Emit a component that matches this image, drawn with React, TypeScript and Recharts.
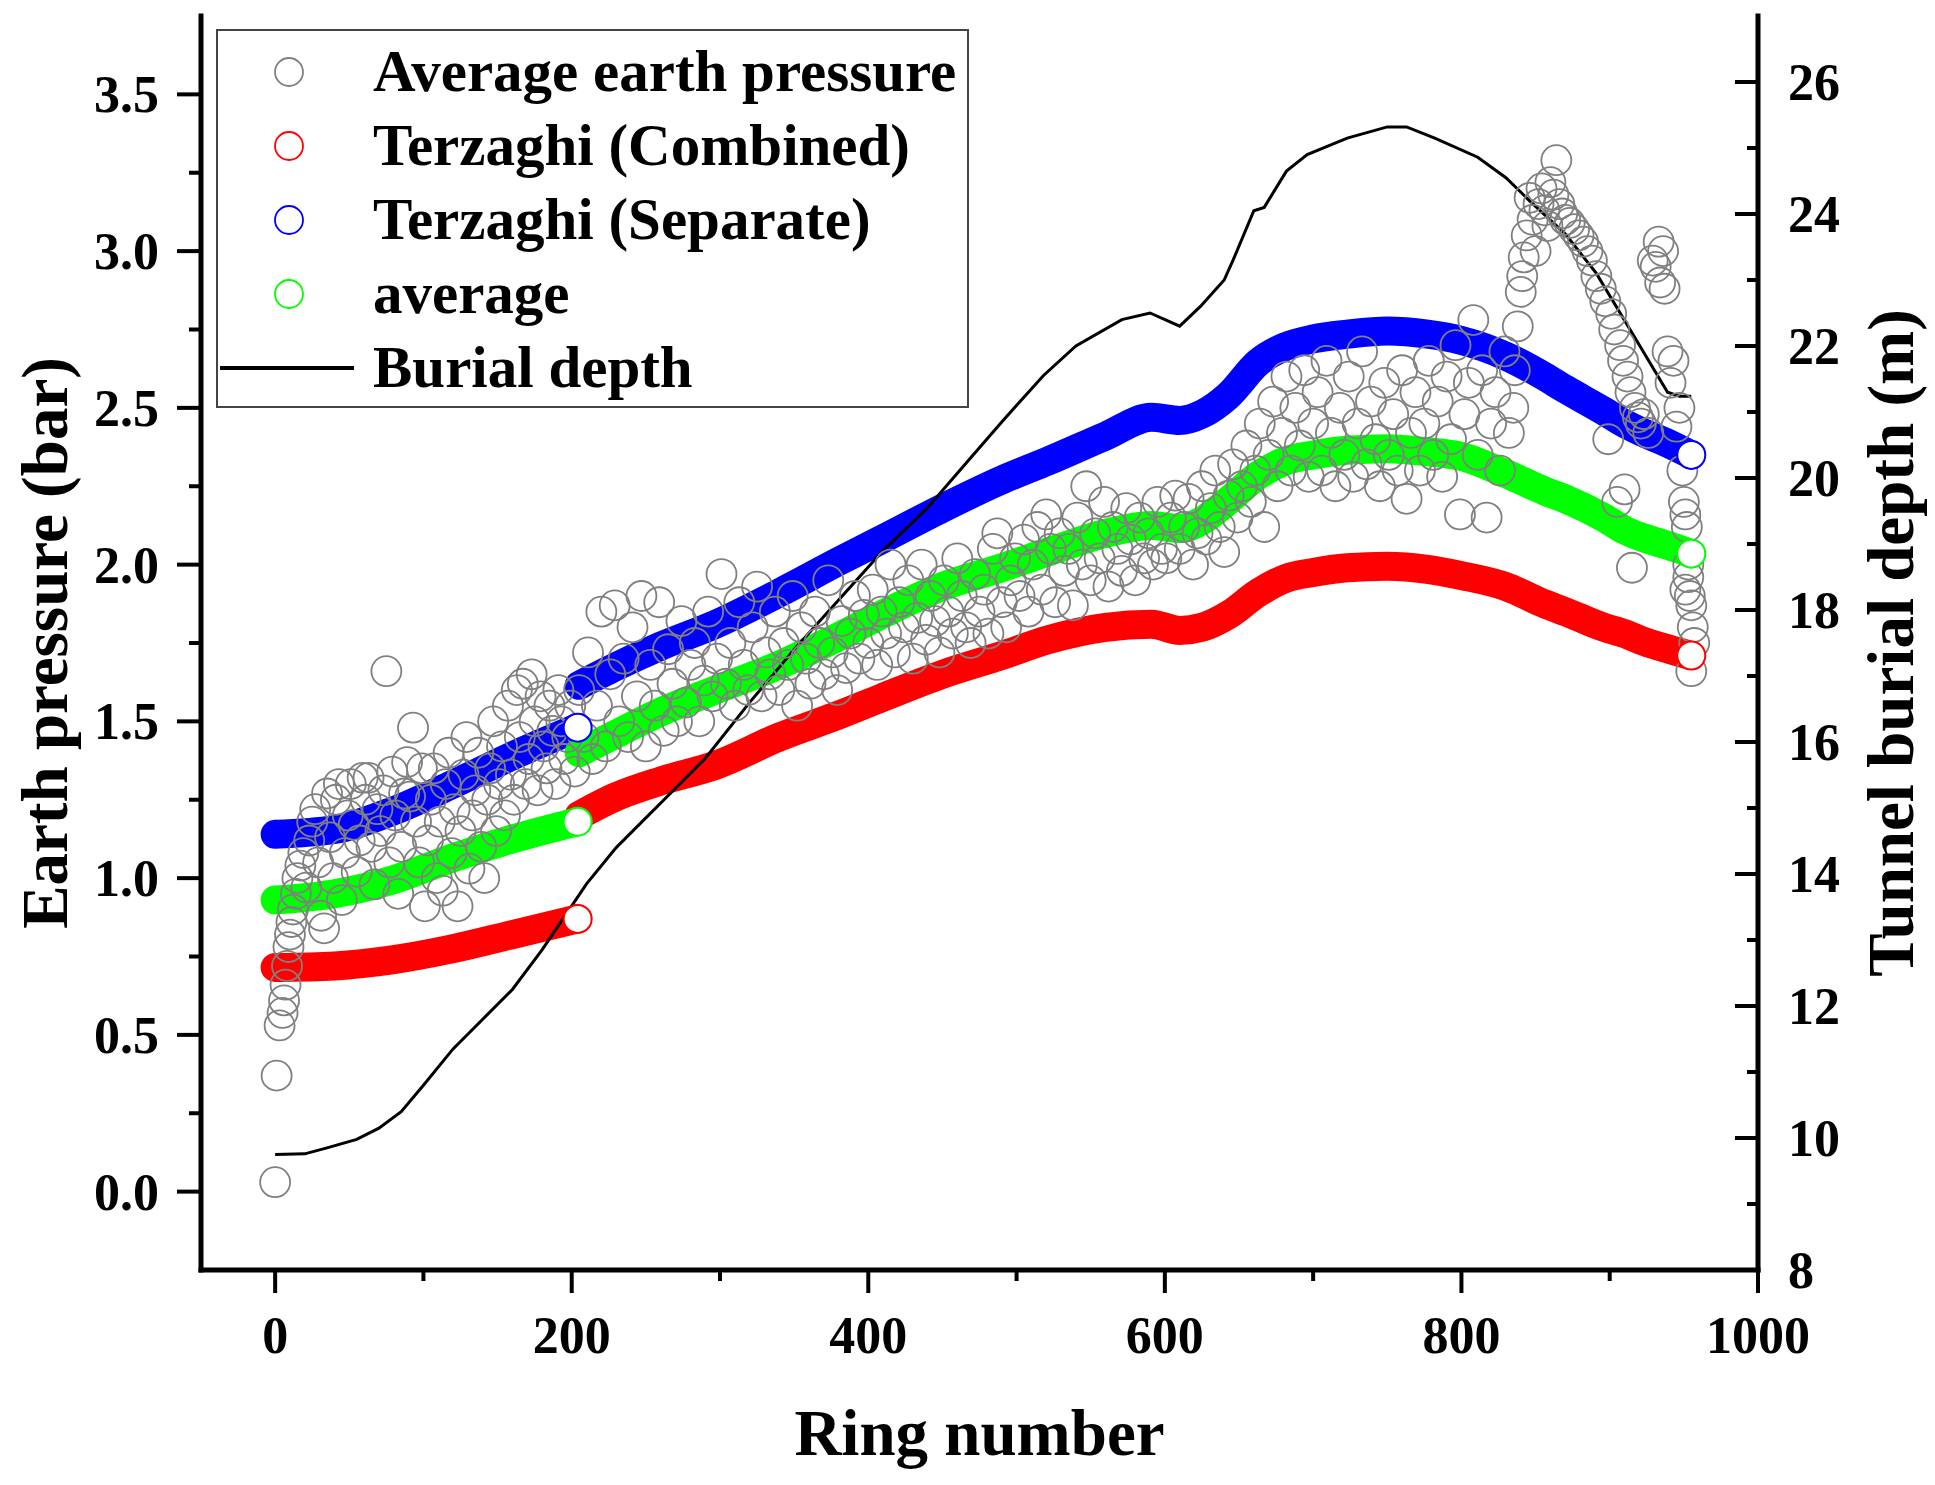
import React from 'react';
import {
  ComposedChart,
  Legend,
  Line,
  Scatter,
  XAxis,
  YAxis,
} from 'recharts';

// ring numbers where the computed curves were read
const RINGS_A = [0, 40, 80, 120, 160, 204];
const RINGS_B = [
  205, 230, 260, 297, 340, 380, 409, 450, 490, 521, 560, 591, 610, 625, 643,
  663, 681, 700, 723, 750, 777, 800, 830, 856, 870, 896, 910, 923, 940, 955,
];

const COMBINED_A = [0.715, 0.72, 0.74, 0.775, 0.82, 0.87];
const COMBINED_B = [
  1.2, 1.26, 1.31, 1.36, 1.45, 1.52, 1.575, 1.65, 1.71, 1.76, 1.8, 1.81, 1.79, 1.8, 1.84,
  1.91, 1.955, 1.975, 1.99, 1.995, 1.985, 1.965, 1.93, 1.875, 1.85, 1.8, 1.78, 1.755, 1.73, 1.71,
];

const SEPARATE_A = [1.14, 1.155, 1.215, 1.3, 1.39, 1.48];
const SEPARATE_B = [
  1.615, 1.675, 1.74, 1.81, 1.91, 2.01, 2.08, 2.18, 2.27, 2.33, 2.41, 2.47, 2.46, 2.48, 2.54,
  2.645, 2.695, 2.72, 2.735, 2.745, 2.735, 2.715, 2.665, 2.6, 2.56, 2.49, 2.45, 2.42, 2.385, 2.35,
];

const AVERAGE_A = [0.93, 0.95, 0.995, 1.065, 1.125, 1.18];
const AVERAGE_B = [
  1.4, 1.46, 1.53, 1.6, 1.68, 1.77, 1.84, 1.93, 1.99, 2.04, 2.1, 2.125, 2.115, 2.14, 2.205,
  2.285, 2.33, 2.35, 2.365, 2.37, 2.36, 2.345, 2.29, 2.235, 2.21, 2.15, 2.11, 2.085, 2.06, 2.035,
];

// burial depth (m) along the drive
const DEPTH_RINGS = [
  0, 20, 35, 55, 70, 85, 100, 120, 140, 160, 180, 195, 210, 230, 250, 270, 290, 320, 350, 380,
  410, 440, 465, 490, 518, 540, 571, 590, 610, 624, 640, 646, 660, 667, 682, 696, 723, 750, 763,
  782, 811, 830, 846, 870, 891, 915, 939, 947, 955,
];
const DEPTH_VALUES = [
  9.75, 9.76, 9.85, 9.98, 10.15, 10.4, 10.8, 11.35, 11.8, 12.25, 12.85, 13.35, 13.85, 14.4, 14.85,
  15.3, 15.75, 16.6, 17.4, 18.15, 18.9, 19.55, 20.2, 20.85, 21.55, 22.0, 22.4, 22.5, 22.3, 22.6,
  23.0, 23.3, 24.05, 24.1, 24.65, 24.9, 25.15, 25.32, 25.32, 25.15, 24.86, 24.55, 24.2, 23.7,
  23.1, 22.2, 21.3, 21.24, 21.24,
];

// measured average earth pressure [ring, bar]
const PRESSURE_EARLY: [number, number][] = [
  [0, 0.03], [1, 0.37], [3, 0.53], [5, 0.57], [6, 0.61], [7, 0.66], [8, 0.72], [9, 0.78], [10, 0.82],
  [11, 0.86], [12, 0.9], [14, 0.95], [15, 1.0], [17, 1.04], [19, 1.08], [21, 0.97], [23, 1.12], [25, 1.18],
  [27, 1.22], [29, 1.05], [31, 0.88], [33, 0.84], [35, 1.27], [37, 1.13], [39, 1.0], [41, 1.25], [43, 1.3],
  [45, 0.93], [47, 1.08], [49, 1.2], [51, 1.3], [53, 1.17], [55, 1.02], [57, 1.12], [59, 1.32], [61, 1.25],
  [63, 1.32], [65, 1.1], [67, 0.98], [69, 1.22], [71, 1.15], [73, 1.28], [75, 1.66], [77, 1.05], [79, 1.34],
  [81, 1.2], [83, 0.95], [85, 1.1], [87, 1.27], [89, 1.37], [91, 1.26], [93, 1.48], [95, 1.18], [97, 1.05],
  [99, 1.35], [101, 0.91], [103, 1.12], [105, 1.25], [107, 1.35], [109, 1.0], [111, 1.18], [113, 0.96],
  [115, 1.3], [117, 1.4], [119, 1.08], [121, 1.22], [123, 0.91], [125, 1.15], [127, 1.33], [129, 1.45],
  [131, 1.03], [133, 1.2], [135, 1.28], [137, 1.4], [139, 1.1], [141, 1.0], [143, 1.25], [145, 1.35],
  [147, 1.5], [149, 1.15], [151, 1.3], [153, 1.42], [155, 1.2], [157, 1.55], [159, 1.33], [161, 1.25],
  [163, 1.6], [165, 1.45], [167, 1.62], [169, 1.3], [171, 1.38], [173, 1.65], [175, 1.5], [177, 1.28],
  [179, 1.58], [181, 1.42], [183, 1.35], [185, 1.55], [187, 1.47], [189, 1.3], [191, 1.6], [193, 1.5],
  [195, 1.38], [197, 1.45], [199, 1.55],
];

const PRESSURE_MID: [number, number][] = [
  [202, 1.34], [205, 1.6], [208, 1.45], [211, 1.72], [214, 1.38], [217, 1.55], [220, 1.85], [223, 1.42],
  [226, 1.65], [229, 1.87], [232, 1.5], [235, 1.7], [238, 1.45], [241, 1.8], [244, 1.58], [247, 1.9],
  [250, 1.42], [253, 1.68], [256, 1.55], [259, 1.88], [262, 1.47], [265, 1.73], [268, 1.62], [271, 1.5],
  [274, 1.82], [277, 1.56], [280, 1.68], [283, 1.75], [286, 1.5], [289, 1.63], [292, 1.85], [295, 1.58],
  [298, 1.7], [301, 1.97], [304, 1.62], [307, 1.75], [310, 1.55], [313, 1.88], [316, 1.68], [319, 1.6],
  [322, 1.8], [325, 1.93], [328, 1.58], [331, 1.72], [334, 1.65], [337, 1.85], [340, 1.6], [343, 1.75],
  [346, 1.68], [349, 1.9], [352, 1.55], [355, 1.8], [358, 1.7], [361, 1.62], [364, 1.85], [367, 1.75],
  [370, 1.65], [373, 1.95], [376, 1.72], [379, 1.6], [382, 1.82], [385, 1.67], [388, 1.78], [391, 1.9],
  [394, 1.7], [397, 1.84], [400, 1.75], [403, 1.92], [406, 1.68], [409, 1.85], [412, 1.78], [415, 2.0],
  [418, 1.72], [421, 1.88], [424, 1.8], [427, 1.95], [430, 1.7], [433, 1.83], [436, 2.0], [439, 1.76],
  [442, 1.9], [445, 1.82], [448, 1.72], [451, 1.95], [454, 1.85], [457, 1.78], [460, 2.02], [463, 1.9],
  [466, 1.8], [469, 1.75], [472, 1.97], [475, 1.85], [478, 1.92], [481, 1.78], [484, 2.05], [487, 2.1],
  [490, 1.88], [493, 1.8], [496, 1.95], [499, 2.02], [502, 1.9], [505, 2.08], [508, 1.85], [511, 2.0],
  [514, 2.12], [517, 1.92], [520, 2.16], [523, 2.05], [526, 1.88], [529, 2.1], [532, 1.98], [535, 2.05],
  [538, 1.87], [541, 2.15], [544, 2.0], [547, 2.25], [550, 1.95], [553, 2.1], [556, 2.02], [559, 2.2],
  [562, 1.93], [565, 2.12], [568, 2.05], [571, 1.98], [574, 2.18], [577, 2.08], [580, 1.95], [583, 2.15],
  [586, 2.02], [589, 2.1], [592, 2.0], [595, 2.2], [598, 2.05],
];

const PRESSURE_LATE: [number, number][] = [
  [601, 2.02], [604, 2.15], [607, 2.22], [610, 2.05], [613, 2.12], [616, 2.21], [619, 2.0], [622, 2.1],
  [625, 2.25], [628, 2.08], [631, 2.18], [634, 2.3], [637, 2.12], [640, 2.04], [643, 2.22], [646, 2.32],
  [649, 2.15], [652, 2.25], [655, 2.38], [658, 2.2], [661, 2.3], [664, 2.45], [667, 2.12], [670, 2.35],
  [673, 2.52], [676, 2.25], [679, 2.42], [682, 2.6], [685, 2.3], [688, 2.5], [691, 2.38], [694, 2.62],
  [697, 2.28], [700, 2.45], [703, 2.55], [706, 2.3], [709, 2.65], [712, 2.42], [715, 2.25], [718, 2.5],
  [721, 2.35], [724, 2.6], [727, 2.28], [730, 2.45], [733, 2.68], [736, 2.32], [739, 2.52], [742, 2.4],
  [745, 2.25], [748, 2.58], [751, 2.35], [754, 2.48], [757, 2.3], [760, 2.62], [763, 2.21], [766, 2.42],
  [769, 2.55], [772, 2.3], [775, 2.45], [778, 2.65], [781, 2.35], [784, 2.52], [787, 2.28], [790, 2.6],
  [793, 2.4], [796, 2.7], [799, 2.16], [802, 2.48], [805, 2.58], [808, 2.78], [811, 2.35], [814, 2.62],
  [817, 2.15], [820, 2.45], [823, 2.55], [826, 2.3], [829, 2.68], [832, 2.42], [835, 2.5], [836, 2.62],
  [838, 2.76], [840, 2.87], [841, 2.92], [842, 2.98], [844, 3.05], [846, 3.17], [848, 3.1], [850, 3.0],
  [852, 3.15], [854, 3.2], [856, 3.13], [858, 3.08], [860, 3.22], [862, 3.18], [864, 3.29], [866, 3.15],
  [868, 3.12], [870, 3.1], [873, 3.09], [876, 3.07], [879, 3.05], [882, 3.03], [885, 3.0], [888, 2.97],
  [891, 2.92], [894, 2.88], [897, 2.84], [899, 2.4], [901, 2.8], [903, 2.75], [905, 2.2], [907, 2.7],
  [909, 2.65], [910, 2.24], [912, 2.6], [914, 2.55], [915, 1.99], [917, 2.5], [919, 2.47], [921, 2.45],
  [923, 2.48], [926, 2.42], [929, 2.97], [931, 2.95], [933, 3.03], [934, 2.9], [936, 3.0], [937, 2.88],
  [939, 2.68], [941, 2.58], [943, 2.65], [945, 2.44], [947, 2.5], [949, 2.3], [950, 2.2], [951, 2.16],
  [952, 2.12], [953, 1.96], [954, 1.9], [955, 1.87], [956, 1.8], [957, 1.75], [955, 1.66], [953, 2.0],
  [951, 1.92],
];

const X_TICKS = [0, 100, 200, 300, 400, 500, 600, 700, 800, 900, 1000];
const P_TICKS = [0, 0.25, 0.5, 0.75, 1, 1.25, 1.5, 1.75, 2, 2.25, 2.5, 2.75, 3, 3.25, 3.5];
const D_TICKS = [8, 9, 10, 11, 12, 13, 14, 15, 16, 17, 18, 19, 20, 21, 22, 23, 24, 25, 26];

const LEGEND_ITEMS = [
  { label: 'Average earth pressure', color: '#808080', kind: 'circle' },
  { label: 'Terzaghi (Combined)', color: '#ff0000', kind: 'circle' },
  { label: 'Terzaghi (Separate)', color: '#0000ff', kind: 'circle' },
  { label: 'average', color: '#00ff00', kind: 'circle' },
  { label: 'Burial depth', color: '#000000', kind: 'line' },
];

const FONT = '"Liberation Serif", "Times New Roman", serif';
const RED = '#ff0000';
const BLUE = '#0000ff';
const GREEN = '#00ff00';
const TICK_FONT = 52;

const toRows = (rings: number[], values: number[]) => rings.map((ring, i) => ({ ring, v: values[i] }));
const pairRows = (pairs: [number, number][]) => pairs.map(([ring, v]) => ({ ring, v }));

const pressureRows = [...pairRows(PRESSURE_EARLY), ...pairRows(PRESSURE_MID), ...pairRows(PRESSURE_LATE)];
const depthRows = toRows(DEPTH_RINGS, DEPTH_VALUES);

const XTick = (props: any) => {
  const { x, y, payload } = props;
  const major = payload.value % 200 === 0;
  return (
    <g>
      <line x1={x} x2={x} y1={y} y2={y + (major ? 23 : 11)} stroke="#000" strokeWidth={4} />
      {major && (
        <text x={x} y={y + 83} textAnchor="middle" fontFamily={FONT} fontWeight="bold" fontSize={TICK_FONT} fill="#000">
          {payload.value}
        </text>
      )}
    </g>
  );
};

const LeftTick = (props: any) => {
  const { x, y, payload } = props;
  const v = payload.value;
  const major = Math.abs(v * 2 - Math.round(v * 2)) < 1e-6;
  return (
    <g>
      <line x1={x} x2={x - (major ? 24 : 12)} y1={y} y2={y} stroke="#000" strokeWidth={4} />
      {major && (
        <text x={x - 42} y={y + 18} textAnchor="end" fontFamily={FONT} fontWeight="bold" fontSize={TICK_FONT} fill="#000">
          {v.toFixed(1)}
        </text>
      )}
    </g>
  );
};

const RightTick = (props: any) => {
  const { x, y, payload } = props;
  const major = payload.value % 2 === 0;
  return (
    <g>
      <line x1={x} x2={x - (major ? 23 : 11)} y1={y} y2={y} stroke="#000" strokeWidth={4} />
      {major && (
        <text x={x + 30} y={y + 18} textAnchor="start" fontFamily={FONT} fontWeight="bold" fontSize={TICK_FONT} fill="#000">
          {payload.value}
        </text>
      )}
    </g>
  );
};

const titleStyle = { fontFamily: FONT, fontWeight: 'bold' as const, fontSize: 65, fill: '#000' };

const LeftTitle = (props: any) => {
  const vb = props.viewBox;
  const x = vb.x + 46;
  const y = vb.y + vb.height / 2;
  return (
    <text x={x} y={y} textAnchor="middle" transform={`rotate(-90, ${x}, ${y})`} {...titleStyle}>
      Earth pressure (bar)
    </text>
  );
};

const RightTitle = (props: any) => {
  const vb = props.viewBox;
  const x = vb.x + 155;
  const y = vb.y + vb.height / 2;
  return (
    <text x={x} y={y} textAnchor="middle" transform={`rotate(-90, ${x}, ${y})`} {...titleStyle}>
      Tunnel burial depth (m)
    </text>
  );
};

const BottomTitle = (props: any) => {
  const vb = props.viewBox;
  return (
    <text x={vb.x + vb.width / 2} y={vb.y + 185} textAnchor="middle" {...titleStyle}>
      Ring number
    </text>
  );
};

const renderLegend = () => (
  <svg width={753} height={379} style={{ display: 'block' }}>
    <rect x={1} y={1} width={751} height={377} fill="#fff" stroke="#444" strokeWidth={2} />
    {LEGEND_ITEMS.map((item, i) => {
      const cy = 43 + i * 74;
      return (
        <g key={item.label}>
          {item.kind === 'circle' ? (
            <circle cx={73} cy={cy} r={14} fill="none" stroke={item.color} strokeWidth={1.8} />
          ) : (
            <line x1={4} x2={138} y1={cy} y2={cy} stroke={item.color} strokeWidth={4} />
          )}
          <text x={157} y={cy + 19} fontFamily={FONT} fontWeight="bold" fontSize={59} fill="#000">
            {item.label}
          </text>
        </g>
      );
    })}
  </svg>
);

const endDot = (color: string, count: number) => (props: any) => {
  const { cx, cy, index } = props;
  if (index !== count - 1) return <g key={`d-${color}-${index}`} />;
  return <circle key={`d-${color}-${index}`} cx={cx} cy={cy} r={14} fill="#fff" stroke={color} strokeWidth={2} />;
};

const band = (id: string, rings: number[], values: number[], color: string) => (
  <Line
    key={id}
    yAxisId="p"
    data={toRows(rings, values)}
    dataKey="v"
    type="monotone"
    stroke={color}
    strokeWidth={29}
    strokeLinecap="round"
    strokeLinejoin="round"
    dot={endDot(color, rings.length)}
    activeDot={false}
    legendType="none"
    isAnimationActive={false}
  />
);

export default function App() {
  const axisLine = { stroke: '#000', strokeWidth: 5, strokeLinecap: 'square' as const };
  return (
    <div style={{ position: 'absolute', left: 0, top: 0, width: 1935, height: 1485, background: '#fff' }}>
      <ComposedChart width={1935} height={1485} margin={{ top: 16, right: 17, bottom: 15, left: 21 }}>
        <XAxis
          dataKey="ring"
          type="number"
          domain={[-50, 1000]}
          ticks={X_TICKS}
          interval={0}
          allowDataOverflow
          height={200}
          tickSize={0}
          tickMargin={0}
          tickLine={false}
          axisLine={axisLine}
          tick={<XTick />}
          label={{ content: <BottomTitle /> }}
        />
        <XAxis
          xAxisId="top"
          orientation="top"
          type="number"
          domain={[-50, 1000]}
          height={0}
          tick={false}
          tickLine={false}
          axisLine={axisLine}
        />
        <YAxis
          yAxisId="p"
          dataKey="v"
          type="number"
          domain={[-0.25, 3.75]}
          ticks={P_TICKS}
          interval={0}
          allowDataOverflow
          width={180}
          tickSize={0}
          tickMargin={0}
          tickLine={false}
          axisLine={axisLine}
          tick={<LeftTick />}
          label={{ content: <LeftTitle /> }}
        />
        <YAxis
          yAxisId="d"
          orientation="right"
          dataKey="v"
          type="number"
          domain={[8, 27]}
          ticks={D_TICKS}
          interval={0}
          allowDataOverflow
          width={160}
          tickSize={0}
          tickMargin={0}
          tickLine={false}
          axisLine={axisLine}
          tick={<RightTick />}
          label={{ content: <RightTitle /> }}
        />
        <Legend
          layout="vertical"
          align="center"
          verticalAlign="middle"
          content={renderLegend}
          wrapperStyle={{ position: 'absolute', left: 216, top: 29, width: 753, height: 379 }}
        />
        <Scatter
          yAxisId="p"
          data={pressureRows}
          dataKey="v"
          legendType="none"
          isAnimationActive={false}
          shape={(p: any) => (
            <circle cx={p.cx} cy={p.cy} r={15} fill="none" stroke="#808080" strokeWidth={1.8} />
          )}
        />
        {band('redA', RINGS_A, COMBINED_A, RED)}
        {band('redB', RINGS_B, COMBINED_B, RED)}
        {band('blueA', RINGS_A, SEPARATE_A, BLUE)}
        {band('blueB', RINGS_B, SEPARATE_B, BLUE)}
        {band('greenA', RINGS_A, AVERAGE_A, GREEN)}
        {band('greenB', RINGS_B, AVERAGE_B, GREEN)}
        <Line
          yAxisId="d"
          data={depthRows}
          dataKey="v"
          type="linear"
          stroke="#000"
          strokeWidth={3}
          dot={false}
          activeDot={false}
          legendType="none"
          isAnimationActive={false}
        />
      </ComposedChart>
    </div>
  );
}
